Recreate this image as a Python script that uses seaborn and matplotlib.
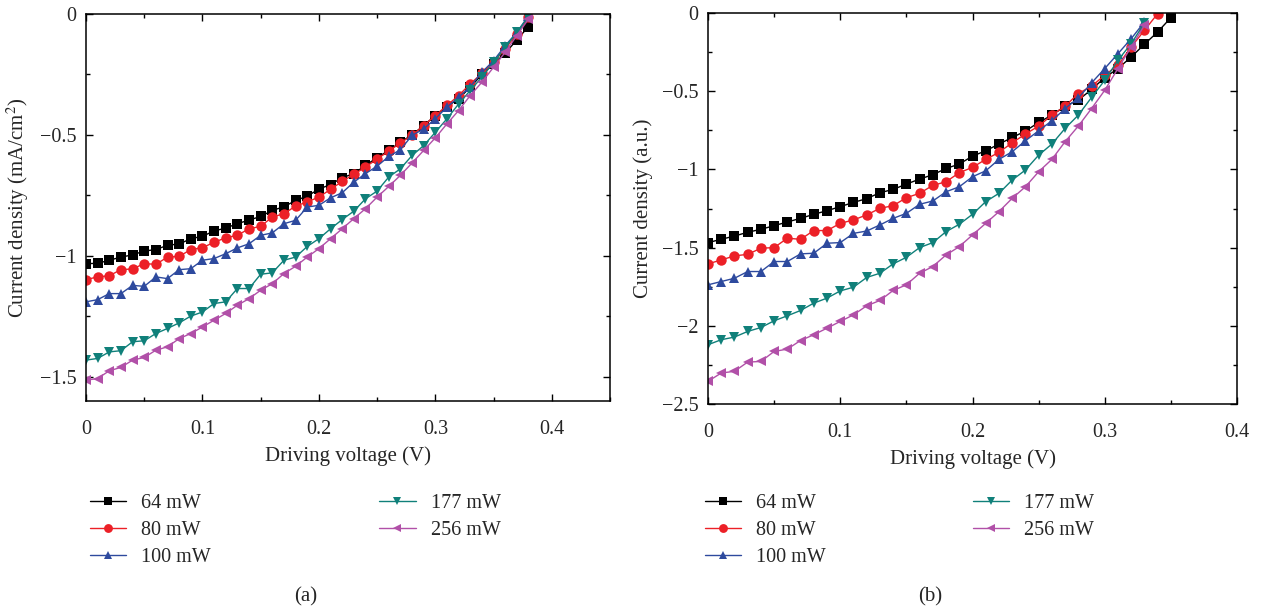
import numpy as np
import pandas as pd
import matplotlib
matplotlib.use("Agg")
import matplotlib.pyplot as plt
from matplotlib.ticker import MultipleLocator, FuncFormatter
import seaborn as sns

# ---------------- data ----------------
powers = ["64 mW", "80 mW", "100 mW", "177 mW", "256 mW"]
colors = ["#000000", "#EC2027", "#2E4A9E", "#10807A", "#B150A8"]
markers = ["s", "o", "^", "v", "<"]

volt_a = [round(0.01 * i, 2) for i in range(39)]   # 0.00 .. 0.38
volt_b_64 = [round(0.01 * i, 2) for i in range(36)]  # 0.00 .. 0.35
volt_b_80 = [round(0.01 * i, 2) for i in range(35)]  # 0.00 .. 0.34
volt_b_hi = [round(0.01 * i, 2) for i in range(34)]  # 0.00 .. 0.33

a_64 = [-1.032, -1.031, -1.018, -1.005, -0.996, -0.980, -0.974, -0.956, -0.951, -0.929,
        -0.919, -0.897, -0.885, -0.867, -0.852, -0.837, -0.812, -0.797, -0.771, -0.753,
        -0.724, -0.705, -0.677, -0.660, -0.626, -0.594, -0.564, -0.530, -0.500, -0.461,
        -0.420, -0.383, -0.350, -0.303, -0.250, -0.206, -0.162, -0.107, -0.052]
a_80 = [-1.098, -1.087, -1.082, -1.057, -1.054, -1.032, -1.035, -1.005, -1.002, -0.974,
        -0.966, -0.944, -0.925, -0.915, -0.888, -0.878, -0.839, -0.826, -0.794, -0.777,
        -0.757, -0.725, -0.692, -0.663, -0.633, -0.599, -0.567, -0.533, -0.502, -0.461,
        -0.420, -0.378, -0.337, -0.289, -0.245, -0.200, -0.144, -0.083, -0.014]
a_100 = [-1.190, -1.181, -1.156, -1.156, -1.122, -1.126, -1.087, -1.094, -1.057, -1.053,
         -1.018, -1.011, -0.991, -0.967, -0.950, -0.915, -0.905, -0.867, -0.853, -0.798,
         -0.791, -0.760, -0.739, -0.695, -0.660, -0.629, -0.589, -0.561, -0.502, -0.475,
         -0.433, -0.385, -0.344, -0.300, -0.241, -0.193, -0.131, -0.076, -0.007]
a_177 = [-1.431, -1.424, -1.397, -1.392, -1.355, -1.351, -1.321, -1.300, -1.277, -1.249,
         -1.232, -1.197, -1.190, -1.135, -1.135, -1.076, -1.070, -1.018, -1.005, -0.961,
         -0.929, -0.888, -0.850, -0.815, -0.764, -0.732, -0.674, -0.640, -0.585, -0.544,
         -0.489, -0.433, -0.372, -0.316, -0.261, -0.200, -0.138, -0.076, -0.011]
a_256 = [-1.514, -1.507, -1.475, -1.461, -1.431, -1.420, -1.390, -1.376, -1.342, -1.321,
         -1.294, -1.266, -1.238, -1.204, -1.177, -1.142, -1.115, -1.073, -1.043, -1.005,
         -0.970, -0.929, -0.888, -0.846, -0.805, -0.757, -0.713, -0.667, -0.616, -0.564,
         -0.512, -0.454, -0.399, -0.337, -0.282, -0.220, -0.158, -0.089, -0.021]

b_64 = [-1.468, -1.447, -1.426, -1.402, -1.383, -1.360, -1.336, -1.313, -1.287, -1.264,
        -1.238, -1.211, -1.187, -1.149, -1.128, -1.094, -1.062, -1.034, -0.994, -0.966,
        -0.915, -0.881, -0.838, -0.796, -0.755, -0.700, -0.653, -0.596, -0.557, -0.489,
        -0.413, -0.355, -0.281, -0.200, -0.121, -0.030]
b_80 = [-1.604, -1.579, -1.553, -1.543, -1.504, -1.500, -1.440, -1.447, -1.391, -1.391,
        -1.345, -1.323, -1.291, -1.249, -1.232, -1.181, -1.153, -1.102, -1.079, -1.021,
        -0.987, -0.936, -0.891, -0.830, -0.774, -0.723, -0.653, -0.596, -0.515, -0.468,
        -0.398, -0.334, -0.217, -0.111, -0.004]
b_100 = [-1.738, -1.717, -1.696, -1.653, -1.653, -1.589, -1.589, -1.540, -1.536, -1.472,
         -1.468, -1.409, -1.394, -1.355, -1.313, -1.281, -1.223, -1.202, -1.143, -1.111,
         -1.047, -1.009, -0.936, -0.887, -0.817, -0.753, -0.689, -0.611, -0.543, -0.447,
         -0.355, -0.260, -0.164, -0.057]
b_177 = [-2.121, -2.089, -2.072, -2.036, -2.011, -1.968, -1.936, -1.902, -1.855, -1.823,
         -1.777, -1.753, -1.691, -1.664, -1.604, -1.562, -1.500, -1.468, -1.398, -1.351,
         -1.287, -1.206, -1.153, -1.068, -1.004, -0.909, -0.838, -0.738, -0.653, -0.540,
         -0.430, -0.302, -0.196, -0.064]
b_256 = [-2.355, -2.302, -2.291, -2.232, -2.228, -2.164, -2.149, -2.094, -2.057, -2.015,
         -1.972, -1.930, -1.872, -1.838, -1.774, -1.738, -1.664, -1.621, -1.547, -1.494,
         -1.419, -1.345, -1.270, -1.185, -1.111, -1.015, -0.936, -0.823, -0.723, -0.611,
         -0.494, -0.355, -0.217, -0.079]


def long_frame(xs_list, ys_list):
    rows = []
    for p, xs, ys in zip(powers, xs_list, ys_list):
        for x, y in zip(xs, ys):
            rows.append({"V": x, "J": y, "P": p})
    return pd.DataFrame(rows)


df_a = long_frame([volt_a] * 5, [a_64, a_80, a_100, a_177, a_256])
df_b = long_frame([volt_b_64, volt_b_80, volt_b_hi, volt_b_hi, volt_b_hi],
                  [b_64, b_80, b_100, b_177, b_256])

# ---------------- style ----------------
sns.set_theme(style="ticks")
plt.rcParams["font.family"] = ["Liberation Serif", "DejaVu Serif"]
plt.rcParams["mathtext.fontset"] = "stix"
plt.rcParams["axes.linewidth"] = 1.1
plt.rcParams["axes.edgecolor"] = "black"

FS = 15
fig = plt.figure(figsize=(12.64, 6.14), dpi=100)
W, H = 1264, 614
ax_a = fig.add_axes([86 / W, 1 - 401 / H, (610 - 86) / W, (401 - 14) / H])
ax_b = fig.add_axes([708 / W, 1 - 404 / H, (1237 - 708) / W, (404 - 13) / H])

minus_fmt = FuncFormatter(lambda v, pos: ("%g" % round(v, 3)).replace("-", "\u2212"))

for ax, df in ((ax_a, df_a), (ax_b, df_b)):
    sns.lineplot(data=df, x="V", y="J", hue="P", style="P", hue_order=powers,
                 style_order=powers, palette=colors, markers=markers, dashes=False,
                 markersize=7.5, linewidth=1.0, markeredgewidth=0, estimator=None,
                 sort=False, ax=ax, legend=True)
    ax.set_xlabel("Driving voltage (V)", fontsize=FS, labelpad=5)
    ax.tick_params(axis="both", which="both", direction="in", top=True, right=True,
                   labelsize=14.5, color="black", width=1)
    ax.tick_params(axis="both", which="major", length=5)
    ax.tick_params(axis="x", which="major", pad=14)
    ax.tick_params(axis="y", which="major", pad=7)
    ax.tick_params(axis="both", which="minor", length=3)
    ax.xaxis.set_major_locator(MultipleLocator(0.1))
    ax.xaxis.set_minor_locator(MultipleLocator(0.05))
    ax.xaxis.set_major_formatter(minus_fmt)
    ax.yaxis.set_major_formatter(minus_fmt)
    for s in ax.spines.values():
        s.set_color("black")

    handles, labels = ax.get_legend_handles_labels()
    ax.get_legend().remove()
    for h in handles:
        h.set_markeredgewidth(0)

    if ax is ax_a:
        ax.set_xlim(0, 0.45)
        ax.set_ylim(-1.6, 0)
        ax.yaxis.set_major_locator(MultipleLocator(0.5))
        ax.yaxis.set_minor_locator(MultipleLocator(0.25))
        ax.set_ylabel("Current density (mA/cm$^2$)", fontsize=FS, labelpad=6)
        anchor = (90 / W, 1 - 494 / H)
        fig.text(306 / W, 1 - 597 / H, "(a)", ha="center", va="center", fontsize=FS)
        colsp = 8.35
    else:
        ax.set_xlim(0, 0.4)
        ax.set_ylim(-2.5, 0)
        ax.yaxis.set_major_locator(MultipleLocator(0.5))
        ax.yaxis.set_minor_locator(MultipleLocator(0.25))
        ax.set_ylabel("Current density (a.u.)", fontsize=FS, labelpad=6)
        anchor = (705 / W, 1 - 494 / H)
        fig.text(930 / W, 1 - 597 / H, "(b)", ha="center", va="center", fontsize=FS)
        colsp = 7.3

    fig.legend(handles, labels, loc="upper left", bbox_to_anchor=anchor, ncol=2,
               frameon=False, fontsize=14.5, handlelength=1.8, handletextpad=0.75,
               columnspacing=colsp, labelspacing=0.38, borderpad=0, borderaxespad=0,
               markerscale=0.85)

fig.savefig("out.png", dpi=100)
